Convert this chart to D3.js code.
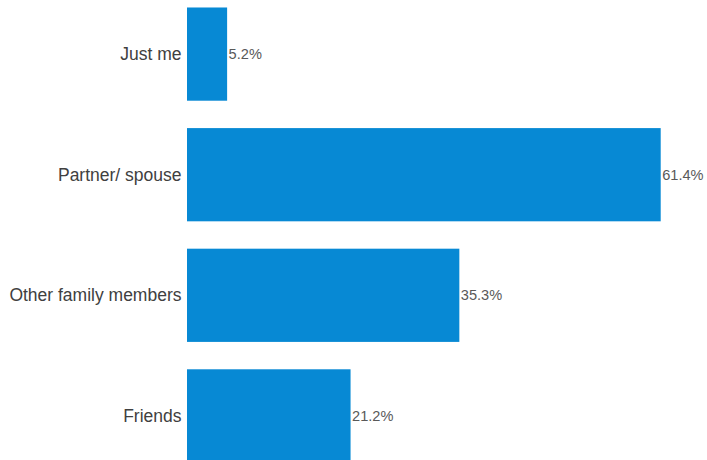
<!DOCTYPE html>
<html>
<head>
<meta charset="utf-8">
<script src="https://cdn.jsdelivr.net/npm/d3@7"></script>
<style>
  html, body { margin: 0; padding: 0; background: #ffffff; }
  svg { display: block; }
</style>
</head>
<body>
<script>
// Who respondents share with
const categories = ["Just me", "Partner/ spouse", "Other family members", "Friends"];
const values = [5.2, 61.4, 35.3, 21.2];

const width = 707, height = 460;
const left = 187;

const svg = d3.select("body").append("svg")
  .attr("width", width)
  .attr("height", height);

const x = d3.scaleLinear()
  .domain([0, 61.4])
  .range([left, 660.7]);

const y = d3.scaleBand()
  .domain(categories)
  .range([-6.2, 476.2])
  .paddingInner(0.227)
  .paddingOuter(0.1135);

const rows = categories.map((c, i) => ({ cat: c, val: values[i] }));

svg.selectAll("rect.bar")
  .data(rows)
  .join("rect")
  .attr("class", "bar")
  .attr("x", x(0))
  .attr("y", d => y(d.cat))
  .attr("width", d => x(d.val) - x(0))
  .attr("height", y.bandwidth())
  .attr("fill", "#0789d4");

// category labels on the left
svg.selectAll("text.cat")
  .data(rows)
  .join("text")
  .attr("class", "cat")
  .attr("x", left - 5.5)
  .attr("y", d => y(d.cat) + y.bandwidth() / 2)
  .attr("dy", "0.35em")
  .attr("text-anchor", "end")
  .attr("font-family", "'Liberation Sans', Arial, sans-serif")
  .attr("font-size", "17.5px")
  .attr("fill", "#404040")
  .text(d => d.cat);

// value labels at bar ends
svg.selectAll("text.val")
  .data(rows)
  .join("text")
  .attr("class", "val")
  .attr("x", d => x(d.val) + 1.5)
  .attr("y", d => y(d.cat) + y.bandwidth() / 2)
  .attr("dy", "0.35em")
  .attr("font-family", "'Liberation Sans', Arial, sans-serif")
  .attr("font-size", "14.6px")
  .attr("fill", "#595959")
  .text(d => d.val.toFixed(1) + "%");
</script>
</body>
</html>
